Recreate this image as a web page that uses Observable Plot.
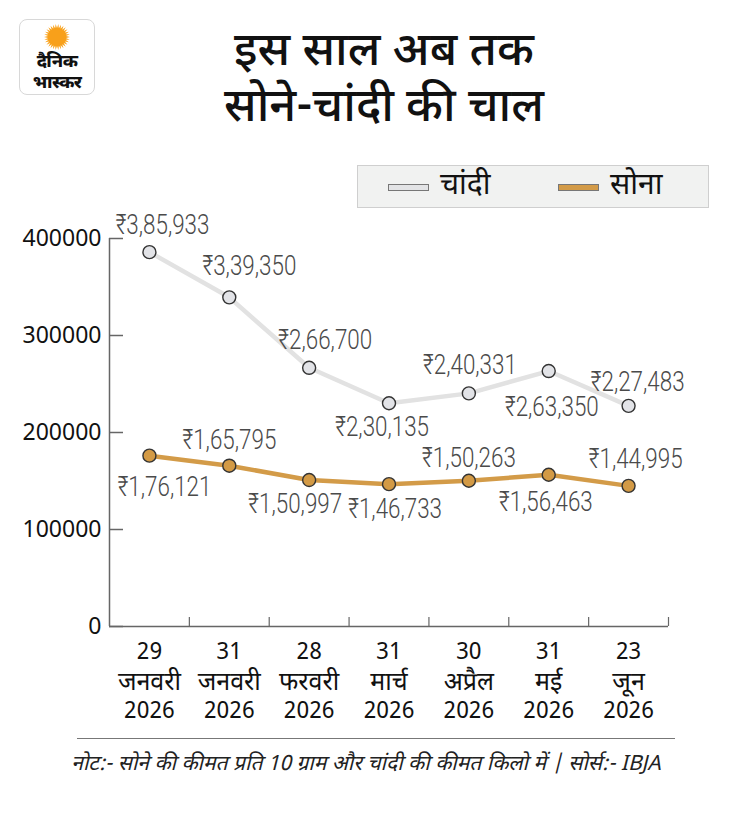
<!DOCTYPE html>
<html>
<head>
<meta charset="utf-8">
<script src="https://cdn.jsdelivr.net/npm/d3@7"></script>
<script src="https://cdn.jsdelivr.net/npm/@observablehq/plot@0.6"></script>
<style>
  html, body { margin: 0; padding: 0; background: #fff; }
  body { width: 730px; height: 822px; position: relative; overflow: hidden;
         font-family: "Noto Sans Devanagari", "Noto Sans", "Open Sans", sans-serif; color: #111; }
  #logo { position: absolute; left: 19px; top: 19px; width: 76px; height: 76px;
          border: 1px solid #d8d8d8; border-radius: 8px; box-sizing: border-box; background: #fff; }
  #logo .t { position: absolute; left: 0; width: 100%; text-align: center; font-weight: 800;
             font-size: 18px; line-height: 20px; height: 20px; color: #111; letter-spacing: -0.6px; }
  #title { position: absolute; left: 0; width: 768px; top: 26px; text-align: center;
           font-size: 47px; line-height: 56px; font-weight: 500; color: #111; }
  #legend { position: absolute; left: 357px; top: 165px; width: 352px; height: 43px;
            box-sizing: border-box; border: 1px solid #cfcfcf; background: #f1f2f1; }
  .sw { position: absolute; top: 18px; width: 41px; height: 7px; box-sizing: border-box; border: 1px solid #777; }
  .lt { position: absolute; top: 0; font-size: 30px; line-height: 41px; color: #111; }
  #chart { position: absolute; left: 0; top: 200px; }
  #rule { position: absolute; left: 77px; width: 598px; top: 738px; height: 0; border-top: 1.5px solid #777; }
  #note { position: absolute; left: 0; width: 732px; top: 751px; text-align: center;
          font-size: 21px; font-style: italic; color: #222; }
</style>
</head>
<body>
<div id="logo">
  <svg width="76" height="40" style="position:absolute;left:0;top:0">
    <g id="sun" transform="translate(37,17)"></g>
  </svg>
  <div class="t" style="top:33px">दैनिक</div>
  <div class="t" style="top:54px">भास्कर</div>
</div>
<div id="title">इस साल अब तक<br>सोने-चांदी की चाल</div>
<div id="legend">
  <div class="sw" style="left:30px;background:#e3e4e6;"></div>
  <div class="lt" style="left:82px">चांदी</div>
  <div class="sw" style="left:200px;background:#d39b48;"></div>
  <div class="lt" style="left:252px">सोना</div>
</div>
<div id="chart"></div>
<div id="rule"></div>
<div id="note">नोट:- सोने की कीमत प्रति 10 ग्राम और चांदी की कीमत किलो में | सोर्स:- IBJA</div>
<script>
// ---- data ----
const dayLabels = ["29", "31", "28", "31", "30", "31", "23"];
const monthLabels = ["जनवरी", "जनवरी", "फरवरी", "मार्च", "अप्रैल", "मई", "जून"];
const yearLabels = ["2026", "2026", "2026", "2026", "2026", "2026", "2026"];
const silver = [385933, 339350, 266700, 230135, 240331, 263350, 227483];
const gold = [176121, 165795, 150997, 146733, 150263, 156463, 144995];
const yTicks = [0, 100000, 200000, 300000, 400000];

// ---- label layout (pixel offsets from each point) ----
const silverDx = [13, 20, 16, -7, 1, 3, 9];
const silverDy = [-27, -31, -28, 24, -28, 36, -24];
const goldDx = [15, 0, -14, 6, 0, -3, 7];
const goldDy = [31, -26, 24, 25, -23, 27, -27];

// sun logo
(function () {
  const g = d3.select("#sun");
  const n = 30;
  const pts = d3.range(n * 2).map(i => {
    const a = Math.PI * i / n;
    const r = i % 2 ? 9 : 13;
    return [r * Math.cos(a), r * Math.sin(a)];
  });
  g.append("polygon").attr("points", pts.map(p => p.join(",")).join(" ")).attr("fill", "#f9a21b");
  g.append("circle").attr("r", 9).attr("fill", "#f8a01a");
})();

function indian(v) {
  const s = String(v);
  const last3 = s.slice(-3);
  let rest = s.slice(0, -3);
  const parts = [];
  while (rest.length > 2) { parts.unshift(rest.slice(-2)); rest = rest.slice(0, -2); }
  if (rest) parts.unshift(rest);
  return "₹" + (parts.length ? parts.join(",") + "," : "") + last3;
}

const idx = d3.range(silver.length);
const xs = i => i + 0.5;
const labelFont = "'Roboto', 'Liberation Sans', sans-serif";
const devFont = "'Noto Sans Devanagari', 'Noto Sans', sans-serif";

function labels(values, dxs, dys) {
  return values.map((v, i) => Plot.text([i], {
    x: xs, y: () => v, text: () => indian(v),
    dx: dxs[i], dy: dys[i], fontSize: 28, fill: "#4a4a4a",
    fontFamily: labelFont, fontWeight: 300
  }));
}

const chart = Plot.plot({
  width: 730,
  height: 530,
  marginTop: 38,
  marginBottom: 104,
  marginLeft: 109,
  marginRight: 62,
  style: { fontFamily: "'Noto Sans', 'Open Sans', sans-serif", fontSize: "23px", color: "#111", background: "transparent", overflow: "visible" },
  x: { domain: [0, silver.length], axis: null },
  y: { domain: [0, 400000], axis: null },
  marks: [
    // axes
    Plot.ruleX([0], { y1: 0, y2: 400000, stroke: "#666", strokeWidth: 1.5 }),
    Plot.ruleY([0], { x1: 0, x2: silver.length, stroke: "#666", strokeWidth: 1.5 }),
    Plot.axisY(yTicks, { anchor: "left", tickSize: 14, dx: 14, fill: "none", stroke: "#666", strokeWidth: 1.5, label: null }),
    Plot.axisY(yTicks, { anchor: "left", tickSize: 0, tickPadding: 8, fontSize: 23, fill: "#111", tickFormat: d3.format("d"), label: null }),
    Plot.axisX(d3.range(1, silver.length + 1), { anchor: "bottom", tickSize: 9, dy: -9, fill: "none", stroke: "#666", strokeWidth: 1.2, label: null }),
    // category labels: day / month / year
    Plot.text(idx, { x: xs, frameAnchor: "bottom", lineAnchor: "middle", dy: 25,
      text: i => dayLabels[i], fontSize: 23, fill: "#111", fontFamily: devFont }),
    Plot.text(idx, { x: xs, frameAnchor: "bottom", lineAnchor: "middle", dy: 55,
      text: i => monthLabels[i], fontSize: 25, fill: "#111", fontFamily: devFont }),
    Plot.text(idx, { x: xs, frameAnchor: "bottom", lineAnchor: "middle", dy: 84,
      text: i => yearLabels[i], fontSize: 23, fill: "#111", fontFamily: devFont }),
    // silver
    Plot.line(idx, { x: xs, y: i => silver[i], stroke: "#e2e2e2", strokeWidth: 4.5 }),
    Plot.dot(idx, { x: xs, y: i => silver[i], r: 6.5, fill: "#e2e3e7", stroke: "#333", strokeWidth: 1.4 }),
    // gold
    Plot.line(idx, { x: xs, y: i => gold[i], stroke: "#d39b48", strokeWidth: 4.5 }),
    Plot.dot(idx, { x: xs, y: i => gold[i], r: 6.5, fill: "#d39a45", stroke: "#333", strokeWidth: 1.4 }),
    ...labels(silver, silverDx, silverDy),
    ...labels(gold, goldDx, goldDy)
  ]
});
document.getElementById("chart").appendChild(chart);
// condense the value labels horizontally (the reference uses a condensed face)
d3.select(chart).selectAll("text").filter(function () {
  return (this.textContent || "").startsWith("₹");
}).each(function () {
  const t = this.getAttribute("transform");
  if (t) this.setAttribute("transform", t + " scale(0.8,1)");
  else {
    const x = +this.getAttribute("x") || 0, y = +this.getAttribute("y") || 0;
    this.setAttribute("transform", `translate(${x},${y}) scale(0.8,1) translate(${-x},${-y})`);
  }
});
</script>
</body>
</html>
